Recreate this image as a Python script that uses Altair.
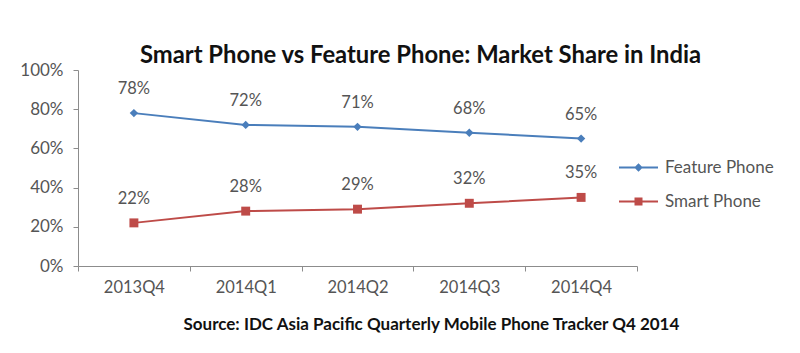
import altair as alt
import pandas as pd

quarters = ["2013Q4", "2014Q1", "2014Q2", "2014Q3", "2014Q4"]
feature_phone = [0.78, 0.72, 0.71, 0.68, 0.65]
smart_phone = [0.22, 0.28, 0.29, 0.32, 0.35]
series_names = ["Feature Phone", "Smart Phone"]
colors = ["#4A7EBB", "#BE4B48"]

rows = []
for q, f, s in zip(quarters, feature_phone, smart_phone):
    rows.append({"quarter": q, "series": series_names[0], "share": f})
    rows.append({"quarter": q, "series": series_names[1], "share": s})
df = pd.DataFrame(rows)

FONT = "Lato"
LABEL_SIZE = 16.5

x = alt.X(
    "quarter:N",
    sort=quarters,
    bandPosition=0.5,
    scale=alt.Scale(type="band", paddingInner=0, paddingOuter=0),
    axis=alt.Axis(
        title="Source: IDC Asia Pacific Quarterly Mobile Phone Tracker Q4 2014",
        titleFont=FONT, titleFontSize=17, titleFontWeight="bold", titleColor="#111111",
        titleAnchor="start", titleAlign="left", titleX=105, titleY=58, titleBaseline="middle",
        labelAngle=0, labelFont=FONT, labelFontSize=LABEL_SIZE, labelColor="#555555",
        labelPadding=8, tickBand="extent", tickSize=5, tickColor="#8C8C8C",
        domainColor="#8C8C8C", grid=False,
    ),
)
y = alt.Y(
    "share:Q",
    scale=alt.Scale(domain=[0, 1], nice=False),
    axis=alt.Axis(
        title=None, format=".0%", values=[0, 0.2, 0.4, 0.6, 0.8, 1.0],
        labelFont=FONT, labelFontSize=17, labelColor="#555555", labelPadding=10,
        tickSize=5, tickColor="#8C8C8C", domainColor="#8C8C8C", grid=False,
    ),
)
color_scale = alt.Scale(domain=series_names, range=colors)

# legend glyphs: a thin filled bar (the line) plus the marker, all filled
feat_path = "M-3.9,-0.2H3.9V0.2H-3.9Z M0,-0.85L0.85,0L0,0.85L-0.85,0Z"
smart_path = "M-3.9,-0.2H3.9V0.2H-3.9Z M-0.8,-0.8H0.8V0.8H-0.8Z"

line = alt.Chart(df).mark_line(strokeWidth=2).encode(
    x=x, y=y,
    color=alt.Color("series:N", scale=color_scale, legend=None),
)

feat_points = alt.Chart(df).transform_filter(
    alt.datum.series == series_names[0]
).mark_point(filled=True, opacity=1, shape="diamond", size=70, color=colors[0]).encode(x=x, y=y)

smart_points = alt.Chart(df).transform_filter(
    alt.datum.series == series_names[1]
).mark_point(filled=True, opacity=1, shape="square", size=80, color=colors[1]).encode(x=x, y=y)

legend_def = alt.Legend(
    title=None, orient="none", legendX=552, legendY=89, padding=0,
    symbolSize=100, symbolOpacity=1, labelOffset=18, rowPadding=16,
    labelFont=FONT, labelFontSize=17, labelColor="#555555", labelLimit=300,
)

legend_layer = alt.Chart(df).mark_point(filled=True, opacity=0).encode(
    x=x, y=y,
    color=alt.Color("series:N", scale=color_scale, legend=legend_def),
    shape=alt.Shape(
        "series:N",
        scale=alt.Scale(domain=series_names, range=[feat_path, smart_path]),
        legend=legend_def,
    ),
)

labels = alt.Chart(df).mark_text(
    font=FONT, fontSize=LABEL_SIZE, color="#555555", dy=-24, baseline="middle"
).encode(
    x=x, y=y, text=alt.Text("share:Q", format=".0%"),
)

chart = alt.layer(line, feat_points, smart_points, labels, legend_layer).resolve_scale(
    color="independent", shape="independent"
).properties(
    width=559, height=196,
    padding={"left": 78, "top": 70, "right": 163, "bottom": 87},
    autosize=alt.AutoSizeParams(type="none"),
    background="white",
    title=alt.TitleParams(
        "Smart Phone vs Feature Phone: Market Share in India",
        font=FONT, fontSize=23.8, fontWeight="bold", color="#111111",
        anchor="start", frame="group", dx=62, offset=-7,
    ),
).configure_view(strokeWidth=0, stroke="transparent")

chart.save("out.html", embed_options={"renderer": "svg", "actions": False})
